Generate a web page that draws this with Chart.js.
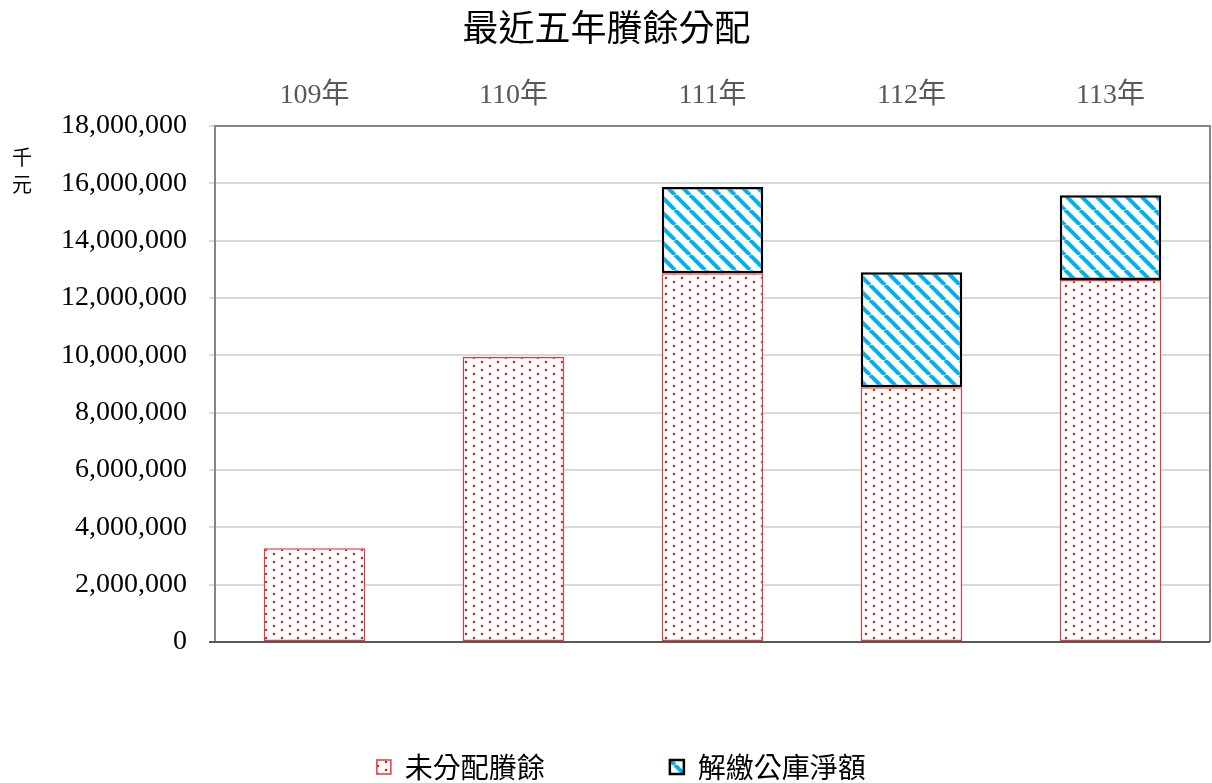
<!DOCTYPE html>
<html>
<head>
<meta charset="utf-8">
<script src="https://cdn.jsdelivr.net/npm/chart.js@4/dist/chart.umd.min.js"></script>
<style>
  html, body { margin: 0; padding: 0; background: #fff; overflow: hidden; }
  #wrap { width: 1212px; height: 791px; }
</style>
</head>
<body>
<div id="wrap"><canvas id="myChart"></canvas></div>
<script>
const years = ['109年', '110年', '111年', '112年', '113年'];
const unallocated = [3270000, 9940000, 12860000, 8880000, 12620000];
const netPayment = [null, null, 3010000, 4010000, 2960000];
const yTicks = [0, 2000000, 4000000, 6000000, 8000000, 10000000, 12000000, 14000000, 16000000, 18000000];

const serif = "'Liberation Serif', 'Noto Sans CJK TC', serif";
const cjk = "'Noto Sans CJK TC', serif";

// red dotted fill
function dotPattern() {
  const c = document.createElement('canvas');
  c.width = 16; c.height = 8;
  const g = c.getContext('2d');
  g.fillStyle = '#fff';
  g.fillRect(0, 0, 16, 8);
  g.fillStyle = '#ff0000';
  g.fillRect(1, 1, 2, 2);
  g.fillRect(9, 5, 2, 2);
  return g.createPattern(c, 'repeat');
}

// blue diagonal hatch
function hatchPattern() {
  const s = 15;
  const c = document.createElement('canvas');
  c.width = s; c.height = s;
  const g = c.getContext('2d');
  g.fillStyle = '#fff';
  g.fillRect(0, 0, s, s);
  g.strokeStyle = '#00b0f0';
  g.lineWidth = 4;
  for (const k of [-s, 0, s]) {
    g.beginPath();
    g.moveTo(k, 0);
    g.lineTo(k + s, s);
    g.stroke();
  }
  return g.createPattern(c, 'repeat');
}

const framePlugin = {
  id: 'frame',
  afterDatasetsDraw(chart) {
    const { ctx, chartArea: a } = chart;
    ctx.save();
    ctx.lineWidth = 2;
    ctx.strokeStyle = '#868686';
    ctx.beginPath();
    ctx.moveTo(a.right, a.top);
    ctx.lineTo(a.right, a.bottom);
    ctx.stroke();
    ctx.strokeStyle = '#595959';
    ctx.beginPath();
    ctx.moveTo(a.left - 6, a.bottom);
    ctx.lineTo(a.right, a.bottom);
    ctx.stroke();
    ctx.restore();
  },
  afterDraw(chart) {
    const { ctx } = chart;
    ctx.save();
    ctx.fillStyle = '#000';
    ctx.font = "20px " + cjk;
    ctx.textAlign = 'center';
    ctx.textBaseline = 'middle';
    ctx.fillText('千', 22, 157);
    ctx.fillText('元', 22, 184);
    ctx.restore();
  }
};

new Chart(document.getElementById('myChart'), {
  type: 'bar',
  data: {
    labels: years,
    datasets: [
      {
        label: '未分配賸餘\u2002',
        data: unallocated,
        backgroundColor: dotPattern(),
        borderColor: '#e8383d',
        borderWidth: 1.5,
        borderSkipped: false,
        barPercentage: 0.51,
        categoryPercentage: 1
      },
      {
        label: '解繳公庫淨額 ',
        data: netPayment,
        backgroundColor: hatchPattern(),
        borderColor: '#000',
        borderWidth: 2.5,
        borderSkipped: false,
        barPercentage: 0.51,
        categoryPercentage: 1
      }
    ]
  },
  options: {
    responsive: true,
    maintainAspectRatio: false,
    animation: false,
    layout: { padding: { left: 39, right: 2, top: 0, bottom: 0 } },
    plugins: {
      title: {
        display: true,
        text: '最近五年賸餘分配\u3000',
        color: '#000',
        font: { family: cjk, size: 36, weight: 'normal' },
        padding: { top: 6, bottom: 17 }
      },
      legend: {
        position: 'bottom',
        align: 'center',
        labels: {
          color: '#000',
          font: { family: cjk, size: 28 },
          boxWidth: 14,
          boxHeight: 14,
          padding: 111
        }
      },
      tooltip: { enabled: false }
    },
    scales: {
      x: {
        position: 'top',
        stacked: true,
        grid: { display: false, drawTicks: false },
        border: { display: true, color: '#868686', width: 2 },
        ticks: { color: '#595959', font: { family: serif, size: 28 }, padding: 13 }
      },
      y: {
        stacked: true,
        min: 0,
        max: 18000000,
        afterBuildTicks(axis) { axis.ticks = yTicks.map(v => ({ value: v })); },
        grid: { color: '#d9d9d9', lineWidth: 2, tickLength: 6, tickColor: '#d9d9d9' },
        border: { display: true, color: '#868686', width: 2 },
        ticks: {
          color: '#000',
          font: { family: serif, size: 28 },
          padding: 22,
          callback: v => v.toLocaleString('en-US')
        }
      }
    }
  },
  plugins: [framePlugin]
});
</script>
</body>
</html>
